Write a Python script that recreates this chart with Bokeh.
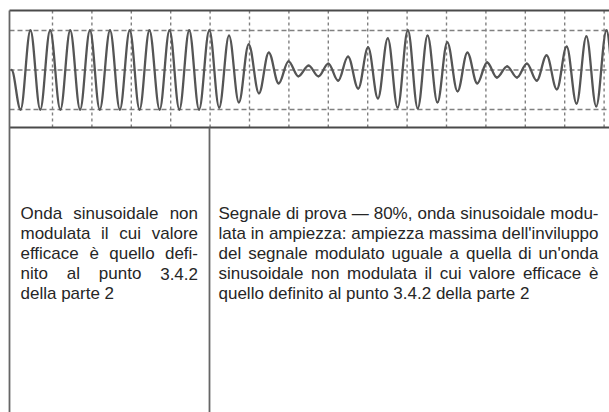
from bokeh.plotting import figure
from bokeh.models import Range1d
from bokeh.core.properties import value
from bokeh.embed import file_html
from bokeh.resources import INLINE

# ---- signal: successive extremes (time in grid divisions, value in divisions) ----
ext_time = [-0.04, 0.19, 0.44, 0.69, 0.94, 1.20, 1.45, 1.70, 1.95, 2.20, 2.46,
            2.71, 2.96, 3.21, 3.46, 3.72, 3.97, 4.22, 4.47, 4.72, 4.98,
            5.23, 5.48, 5.73, 5.98, 6.24, 6.49, 6.74, 6.99, 7.24, 7.50,
            7.75, 8.00, 8.25, 8.50, 8.76, 9.01, 9.26, 9.51, 9.76, 10.02,
            10.27, 10.52, 10.77, 11.02, 11.28, 11.53, 11.78, 12.03, 12.28, 12.54,
            12.79, 13.04, 13.29, 13.54, 13.80, 14.05, 14.30, 14.55, 14.80, 15.06,
            15.31]
ext_value = [0.0, -1.0, 1.0, -1.0, 1.0, -1.0, 1.0, -1.0, 1.0, -1.0, 1.0,
             -1.0, 1.0, -1.0, 1.0, -1.0, 1.0, -1.0, 1.0, -1.0, 1.0,
             -0.95, 0.87, -0.82, 0.65, -0.59, 0.44, -0.34, 0.22, -0.16, 0.11,
             -0.16, 0.16, -0.27, 0.34, -0.47, 0.57, -0.72, 0.80, -0.95, 1.0,
             -0.97, 0.87, -0.82, 0.70, -0.54, 0.44, -0.34, 0.19, -0.19, 0.09,
             -0.19, 0.16, -0.27, 0.37, -0.49, 0.59, -0.85, 0.85, -0.92, 1.0,
             -1.0]

grid_time = [1, 2, 3, 4, 5, 6, 7, 8, 9, 10, 11, 12, 13, 14, 15]
grid_level = [1, 0, -1]

left_lines = ["Onda sinusoidale non",
              "modulata il cui valore",
              "efficace è quello defi-",
              "nito al punto 3.4.2",
              "della parte 2"]
right_lines = ["Segnale di prova — 80%, onda sinusoidale modu-",
               "lata in ampiezza: ampiezza massima dell'inviluppo",
               "del segnale modulato uguale a quella di un'onda",
               "sinusoidale non modulata il cui valore efficace è",
               "quello definito al punto 3.4.2 della parte 2"]

# ---- text metrics (Arial / Liberation Sans advance widths, 1/1000 em) ----
ADV = {" ": 278, ".": 278, ",": 278, ":": 278, "-": 333, "—": 1000, "%": 889, "'": 191,
       "O": 778, "S": 667, "è": 556,
       "a": 556, "b": 556, "c": 500, "d": 556, "e": 556, "f": 278, "g": 556, "h": 556,
       "i": 222, "j": 222, "k": 500, "l": 222, "m": 833, "n": 556, "o": 556, "p": 556,
       "q": 556, "r": 333, "s": 500, "t": 278, "u": 556, "v": 500, "w": 722, "x": 500,
       "y": 500, "z": 500}
FS = 17.0


def tw(s):
    return sum(ADV.get(c, 556) for c in s) * FS / 1000.0


def justify(lines, xa, xb, base0, step):
    xs, ys, ts = [], [], []
    for i, line in enumerate(lines):
        y = base0 + i * step
        if i == len(lines) - 1:
            xs.append(xa); ys.append(y); ts.append(line)
            continue
        words = line.split(" ")
        gap = (xb - xa - sum(tw(w) for w in words)) / (len(words) - 1)
        x = xa
        for w in words:
            xs.append(x); ys.append(y); ts.append(w)
            x += tw(w) + gap
    return xs, ys, ts


p = figure(width=609, height=412, x_range=Range1d(0, 609), y_range=Range1d(412, 0),
           output_backend="svg", toolbar_location=None, min_border=0,
           x_axis_location=None, y_axis_location=None)
p.xgrid.visible = False
p.ygrid.visible = False
p.outline_line_color = None
p.background_fill_color = "white"
p.border_fill_color = "white"
p.extra_x_ranges = {"t": Range1d(-0.3198, 15.137)}
p.extra_y_ranges = {"sig": Range1d(-8.671, 1.759)}

GRID = "#808080"
# horizontal dashed grid
p.segment(x0=[9] * len(grid_level), x1=[609] * len(grid_level), y0=grid_level, y1=grid_level,
          y_range_name="sig", line_color=GRID, line_width=1.4, line_dash="5 3")
# vertical dotted grid
p.segment(x0=grid_time, x1=grid_time, y0=[10] * len(grid_time), y1=[127] * len(grid_time),
          x_range_name="t", line_color=GRID, line_width=1.4, line_dash="3 3")

# waveform through extremes with sine-like cubic segments
K = 0.3634
x0 = ext_time[:-1]; x1 = ext_time[1:]
y0 = ext_value[:-1]; y1 = ext_value[1:]
cx0 = [a + K * (b - a) for a, b in zip(x0, x1)]
cx1 = [b - K * (b - a) for a, b in zip(x0, x1)]
p.bezier(x0=x0, y0=y0, x1=x1, y1=y1, cx0=cx0, cy0=y0, cx1=cx1, cy1=y1,
         x_range_name="t", y_range_name="sig", line_color="#555555", line_width=2.3,
         line_join="round", line_cap="round")

# frame lines
BORDER = "#4a4a4a"
p.segment(x0=[9, 9], x1=[609, 609], y0=[10, 127], y1=[10, 127], line_color=BORDER, line_width=2.2)
p.segment(x0=[9, 209], x1=[9, 209], y0=[10, 127], y1=[412, 412], line_color="#666666", line_width=1.8)

# texts
TXT = "#262626"
for lines, xa, xb in ((left_lines, 20, 197.5), (right_lines, 218, 598)):
    xs, ys, ts = justify(lines, xa, xb, 213, 20)
    p.text(x=xs, y=ys, text=ts, text_font=value("Liberation Sans"), text_font_size="17px",
           text_color=TXT, text_align="left", text_baseline="alphabetic")

open("out.html", "w").write(file_html(p, INLINE))
